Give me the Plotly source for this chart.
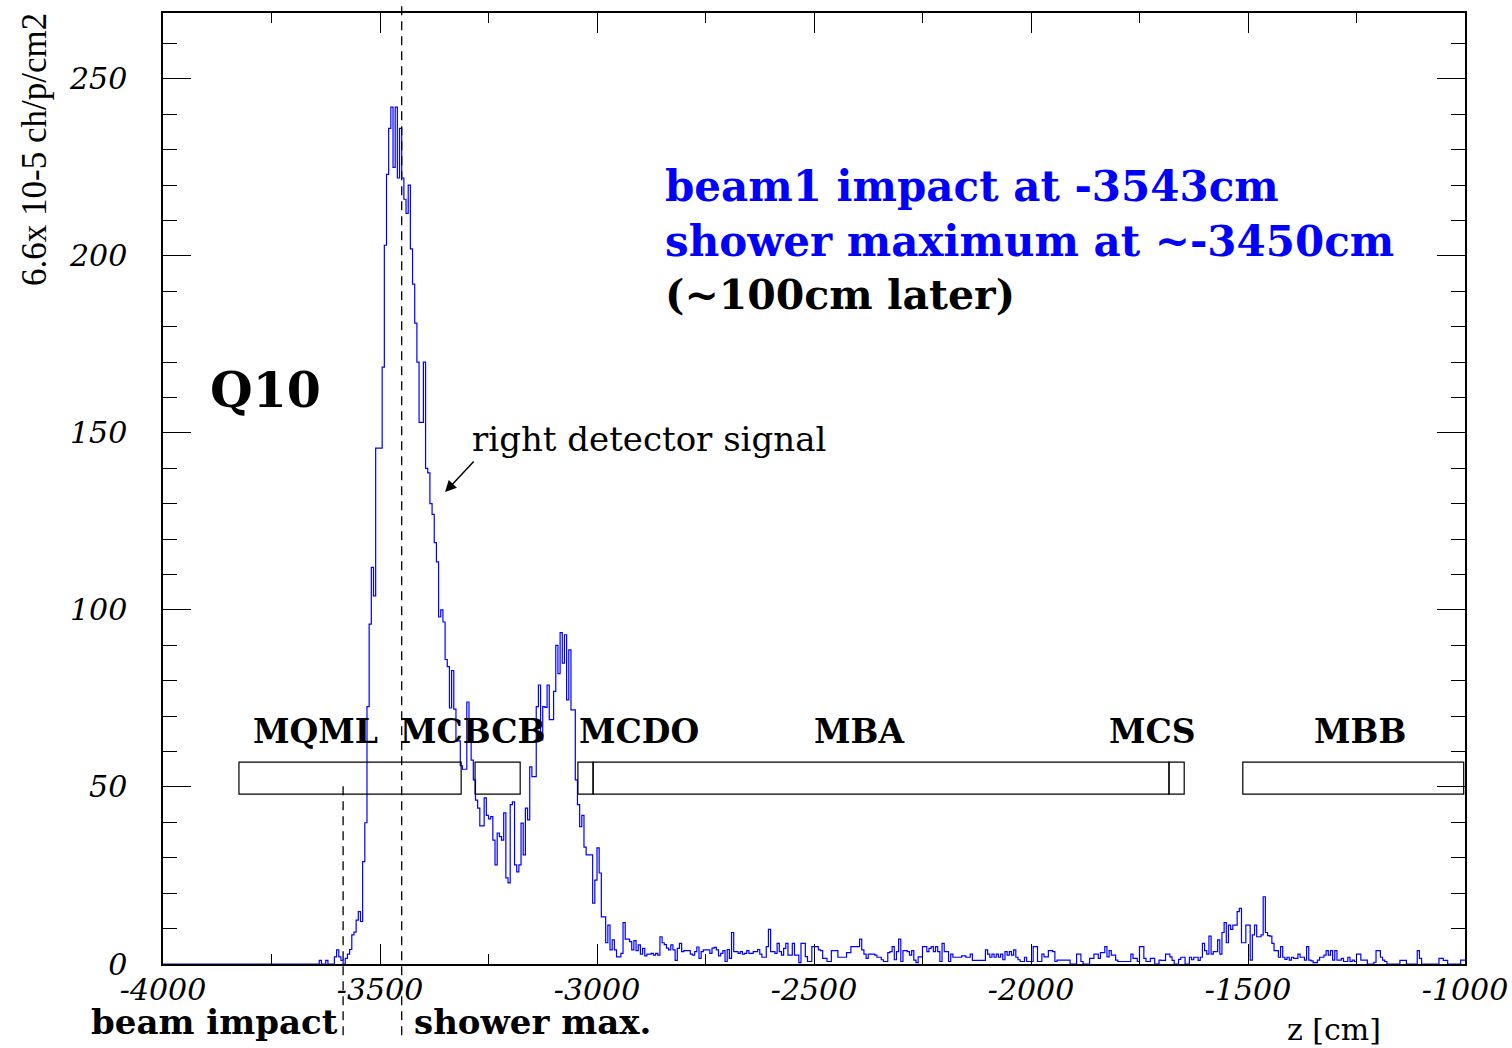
import numpy as np
import plotly.graph_objects as go

# ---------------- data ----------------
BIN_START = -4000   # cm, left edge of first bin
BIN_WIDTH = 5       # cm

signal = [
    0, 0, 0, 0, 0, 0, 0, 0, 0, 0, 0, 0, 0, 0, 0, 0, 0, 0, 0, 0,
    0, 0, 0, 0, 0, 0, 0, 0, 0, 0, 0, 0, 0, 0, 0, 0, 0, 0, 0, 0,
    0, 0, 0, 0, 0, 0, 0, 0, 0, 0, 0, 0, 0, 0, 0, 0, 0, 0, 0, 0,
    0, 0, 0, 0, 0, 0, 0, 0, 0, 0, 0, 0, 1, 0, 0, 1, 0, 0, 0, 2,
    4, 2, 1, 0, 1.6, 2.8, 4.1, 8.2, 9, 12.4, 14.8, 12, 28.9, 39.9, 72.7, 96, 112, 104, 145.7, 145.7,
    145.7, 168.6, 203, 223, 236, 242, 225, 242, 222, 236, 222, 216, 212, 220, 202, 192, 181, 170, 153, 153,
    170, 140, 138.7, 130, 127, 119, 113.6, 98, 100, 96.6, 86, 84, 72.3, 82.9, 72, 63, 63, 56, 55, 55,
    74, 62.8, 57.6, 52, 46.3, 44, 39, 39, 46.9, 42, 41, 41.6, 35, 28, 37, 36, 35, 42.7, 24.3, 22.9,
    45, 45.8, 28, 26, 28, 39.8, 30.8, 44, 40.7, 55.7, 52.9, 52.9, 72.7, 78.8, 63.3, 72.7, 72.5, 78.8, 69, 69,
    77, 90, 82, 93.6, 85, 93, 74.6, 88.7, 71.8, 71.8, 52, 45, 38.8, 42, 33, 30.8, 30.8, 30.8, 17.2, 23.7,
    32.8, 25.7, 13.3, 13.3, 6, 11, 4, 6.8, 4, 2, 2, 3, 11.7, 7, 7, 6.3, 4, 6.6, 3.8, 5.4,
    2.8, 4.4, 2.3, 2.8, 2.8, 3, 2.5, 3, 2.5, 7.7, 6, 5.5, 4.5, 4, 5.4, 4, 1, 4.4, 5.8, 3.5,
    3.8, 3.8, 3.8, 2.8, 2.5, 3.5, 4.8, 1.6, 3.5, 4, 4, 4, 3, 4.5, 4.7, 4, 2.3, 3, 3.8, 0.7,
    4.1, 1.6, 8.9, 3.5, 3.5, 3, 3.5, 2.8, 3, 3.8, 3, 3, 3.5, 3.5, 4.1, 2.8, 1.9, 1.9, 4.9, 9.8,
    3.5, 3.5, 3, 5.8, 3.5, 2.5, 4.4, 5.8, 2.5, 2.5, 5.8, 2.5, 2.5, 0.4, 5.8, 5.8, 2.1, 0.7, 0.7, 4.9,
    4.9, 4.9, 4, 3.8, 1.6, 1.6, 0.7, 0.7, 3.8, 3.8, 3.8, 1.9, 1.9, 1.9, 1.9, 3.2, 3.2, 4.9, 4.9, 4.9,
    4.9, 7, 4, 2.8, 1.6, 2.8, 2.8, 2.8, 2.5, 1.9, 1.9, 1.2, 0.7, 0.7, 3.2, 3.5, 4.9, 1.2, 3.5, 7,
    0.7, 3.8, 3.8, 3.5, 2.5, 3.8, 1.1, 0.4, 2, 2, 4.9, 4.9, 3.5, 4.4, 4.9, 3.5, 4.9, 3.5, 0.7, 5.8,
    3.5, 3.5, 0.7, 2.8, 1.9, 1.9, 1.9, 1.9, 2.3, 2.3, 1.9, 1.9, 2.8, 1, 1, 1, 1, 1, 1, 4,
    2.8, 1.9, 2.8, 1.9, 2.8, 1.9, 2.8, 1.2, 3.5, 2.5, 3.5, 2.5, 4, 1.9, 1.2, 0.7, 0.7, 1.9, 0.7, 0.7,
    0.7, 4.9, 4.9, 0.7, 0.7, 2.8, 2, 2, 3.8, 3.8, 3.5, 0.7, 1.1, 1.1, 1.1, 1.1, 1.1, 1.1, 0, 0,
    0, 2.8, 2.8, 0.7, 0, 0, 0, 1.6, 1.6, 2.8, 2.8, 1.6, 3.2, 3.2, 4.9, 2, 3.8, 2.5, 2.5, 1.1,
    0.7, 0.7, 0.7, 0.7, 0.7, 0.7, 2.8, 1.6, 1.6, 0.7, 4.9, 4.9, 1.6, 0.7, 0.7, 1.6, 1.6, 0, 0, 1.1,
    1, 1, 2.8, 2.8, 2, 1, 0, 0, 1.3, 1.9, 1.9, 0, 0, 1.9, 1.2, 1.9, 1.9, 1, 1.9, 5.8,
    3.8, 2.8, 7.9, 2.8, 3.5, 3.5, 6.8, 2.8, 8.9, 11.7, 6, 11, 9.8, 11, 11, 14.8, 15.7, 6, 6, 11,
    11, 1.1, 8.2, 11, 7.7, 7.7, 8.2, 19, 8.9, 8, 7.9, 5.8, 3.8, 3.8, 1.9, 4.9, 1.9, 1.3, 1.9, 1.1,
    1.9, 1.6, 1.6, 2.8, 1.9, 1.9, 1.1, 4.9, 1.1, 0.9, 0.4, 0.4, 1.1, 1.9, 1.9, 2.5, 3.8, 2.5, 3.8, 1.1,
    3.8, 1.1, 1.1, 1.6, 0.7, 0.7, 1.9, 0.7, 1.1, 0.7, 2.8, 2.8, 1.1, 1.1, 1.1, 0, 0, 0, 0.5, 3.8,
    3.8, 1.9, 1.1, 0.7, 0, 0, 0, 0, 0, 0, 1, 1, 1, 0, 0, 0, 0, 0, 3.8, 1.6,
    0, 0, 0, 0, 0, 0, 0, 0, 1.6, 1.6, 1, 1, 0, 0, 0, 0, 0, 0, 1.1, 1.1,
]

x_tick_vals = [-4000, -3500, -3000, -2500, -2000, -1500, -1000]
x_tick_text = ["-4000", "-3500", "-3000", "-2500", "-2000", "-1500", "-1000"]
y_tick_vals = [0, 50, 100, 150, 200, 250]
y_tick_text = ["0", "50", "100", "150", "200", "250"]

magnet_names = ["MQML", "MCBCB", "MCDO", "MBA", "MCS", "MBB"]
magnet_label_x = [-3648, -3288, -2903, -2396, -1721, -1242]
box_x0 = [-3825, -3281, -3044, -3009, -1682, -1512]
box_x1 = [-3313, -3177, -3009, -1682, -1647, -1003]
BOX_Y0, BOX_Y1, LABEL_Y = 48, 57, 65.8

beam_impact_z = -3585
shower_max_z = -3450

x_range = [-4000, -1000]
y_range = [0, 268.6]

# ---------------- figure ----------------
edges = BIN_START + BIN_WIDTH * np.arange(len(signal) + 1)
x_step = list(edges)
y_step = list(signal) + [signal[-1]]

fig = go.Figure()
fig.add_trace(go.Scatter(
    x=x_step, y=y_step, mode="lines",
    line=dict(color="#0000ff", width=1.2, shape="hv"),
    hoverinfo="skip", showlegend=False,
))

shapes = []
for x0, x1 in zip(box_x0, box_x1):
    shapes.append(dict(type="rect", xref="x", yref="y", x0=x0, x1=x1,
                       y0=BOX_Y0, y1=BOX_Y1,
                       line=dict(color="black", width=1.2), fillcolor="rgba(0,0,0,0)"))
# dashed lines (extend below the frame)
shapes.append(dict(type="line", xref="x", yref="paper", x0=beam_impact_z, x1=beam_impact_z,
                   y0=-0.075, y1=0.19, line=dict(color="black", width=1.3, dash="9px,6px")))
shapes.append(dict(type="line", xref="x", yref="paper", x0=shower_max_z, x1=shower_max_z,
                   y0=-0.075, y1=1.008, line=dict(color="black", width=1.3, dash="9px,6px")))

SERIF = "DejaVu Serif"
ann = []
for name, lx in zip(magnet_names, magnet_label_x):
    ann.append(dict(x=lx, y=LABEL_Y, xref="x", yref="y", text=name, showarrow=False,
                    xanchor="center", yanchor="middle",
                    font=dict(family=SERIF, size=33, color="black", weight="bold")))

ann += [
    dict(x=-2848, y=219.5, xref="x", yref="y", text="beam1 impact at -3543cm", showarrow=False,
         xanchor="left", yanchor="middle", font=dict(family=SERIF, size=42, color="#0000ff", weight="bold")),
    dict(x=-2848, y=204.2, xref="x", yref="y", text="shower maximum at ~-3450cm", showarrow=False,
         xanchor="left", yanchor="middle", font=dict(family=SERIF, size=42, color="#0000ff", weight="bold")),
    dict(x=-2848, y=189.0, xref="x", yref="y", text="(~100cm later)", showarrow=False,
         xanchor="left", yanchor="middle", font=dict(family=SERIF, size=41, color="black", weight="bold")),
    dict(x=-3897, y=162.1, xref="x", yref="y", text="Q10", showarrow=False,
         xanchor="left", yanchor="middle", font=dict(family=SERIF, size=49, color="black", weight="bold")),
    dict(x=-3292, y=148.3, xref="x", yref="y", text="right detector signal", showarrow=False,
         xanchor="left", yanchor="middle", font=dict(family=SERIF, size=34, color="black")),
    dict(x=-3350, y=133.3, xref="x", yref="y", text="", showarrow=True, ax=30, ay=-32,
         arrowhead=2, arrowsize=1.5, arrowwidth=1.5, arrowcolor="black"),
    dict(x=-0.057, y=-0.061, xref="paper", yref="paper", text="beam impact", showarrow=False,
         xanchor="left", yanchor="middle", font=dict(family=SERIF, size=34, color="black", weight="bold")),
    dict(x=0.1915, y=-0.061, xref="paper", yref="paper", text="shower max.", showarrow=False,
         xanchor="left", yanchor="middle", font=dict(family=SERIF, size=34, color="black", weight="bold")),
    dict(x=0.862, y=-0.0694, xref="paper", yref="paper", text="z [cm]", showarrow=False,
         xanchor="left", yanchor="middle", font=dict(family=SERIF, size=30, color="black")),
    dict(x=-0.0983, y=0.856, xref="paper", yref="paper", text="6.6x 10-5 ch/p/cm2", showarrow=False,
         textangle=-90, xanchor="center", yanchor="middle",
         font=dict(family="Liberation Serif", size=35, color="black")),
]

tickfont = dict(family=SERIF, size=30, color="black", style="italic")
# frame at x 163..1465, y 13..964 of the 1512x1048 window
fig.update_layout(
    width=1512, height=1048,
    margin=dict(l=163, r=47, t=13, b=84, autoexpand=False),
    paper_bgcolor="white", plot_bgcolor="white",
    shapes=shapes, annotations=ann, showlegend=False,
    xaxis=dict(range=x_range, tickmode="array", tickvals=x_tick_vals, ticktext=x_tick_text,
               ticks="inside", ticklen=20, tickwidth=1.2, tickcolor="black",
               minor=dict(tickmode="linear", tick0=-4000, dtick=250, ticks="inside",
                          ticklen=10, tickwidth=1.2, tickcolor="black"),
               showline=True, linecolor="black", linewidth=1.5, mirror="allticks",
               showgrid=False, zeroline=False, tickfont=tickfont, ticklabelstandoff=-2,
               ticklabeloverflow="allow"),
    yaxis=dict(range=y_range, tickmode="array", tickvals=y_tick_vals, ticktext=y_tick_text,
               ticks="inside", ticklen=28, tickwidth=1.2, tickcolor="black",
               minor=dict(tickmode="linear", tick0=0, dtick=10, ticks="inside",
                          ticklen=14, tickwidth=1.2, tickcolor="black"),
               showline=True, linecolor="black", linewidth=1.5, mirror="allticks",
               showgrid=False, zeroline=False, tickfont=tickfont, ticklabelstandoff=28,
               ticklabeloverflow="allow"),
)

# remove the default page margin so the figure sits at the window's top-left corner
fig.write_html(
    "out.html",
    config={"displayModeBar": False},
    post_script="document.body.style.margin='0';document.body.style.overflow='hidden';",
)
